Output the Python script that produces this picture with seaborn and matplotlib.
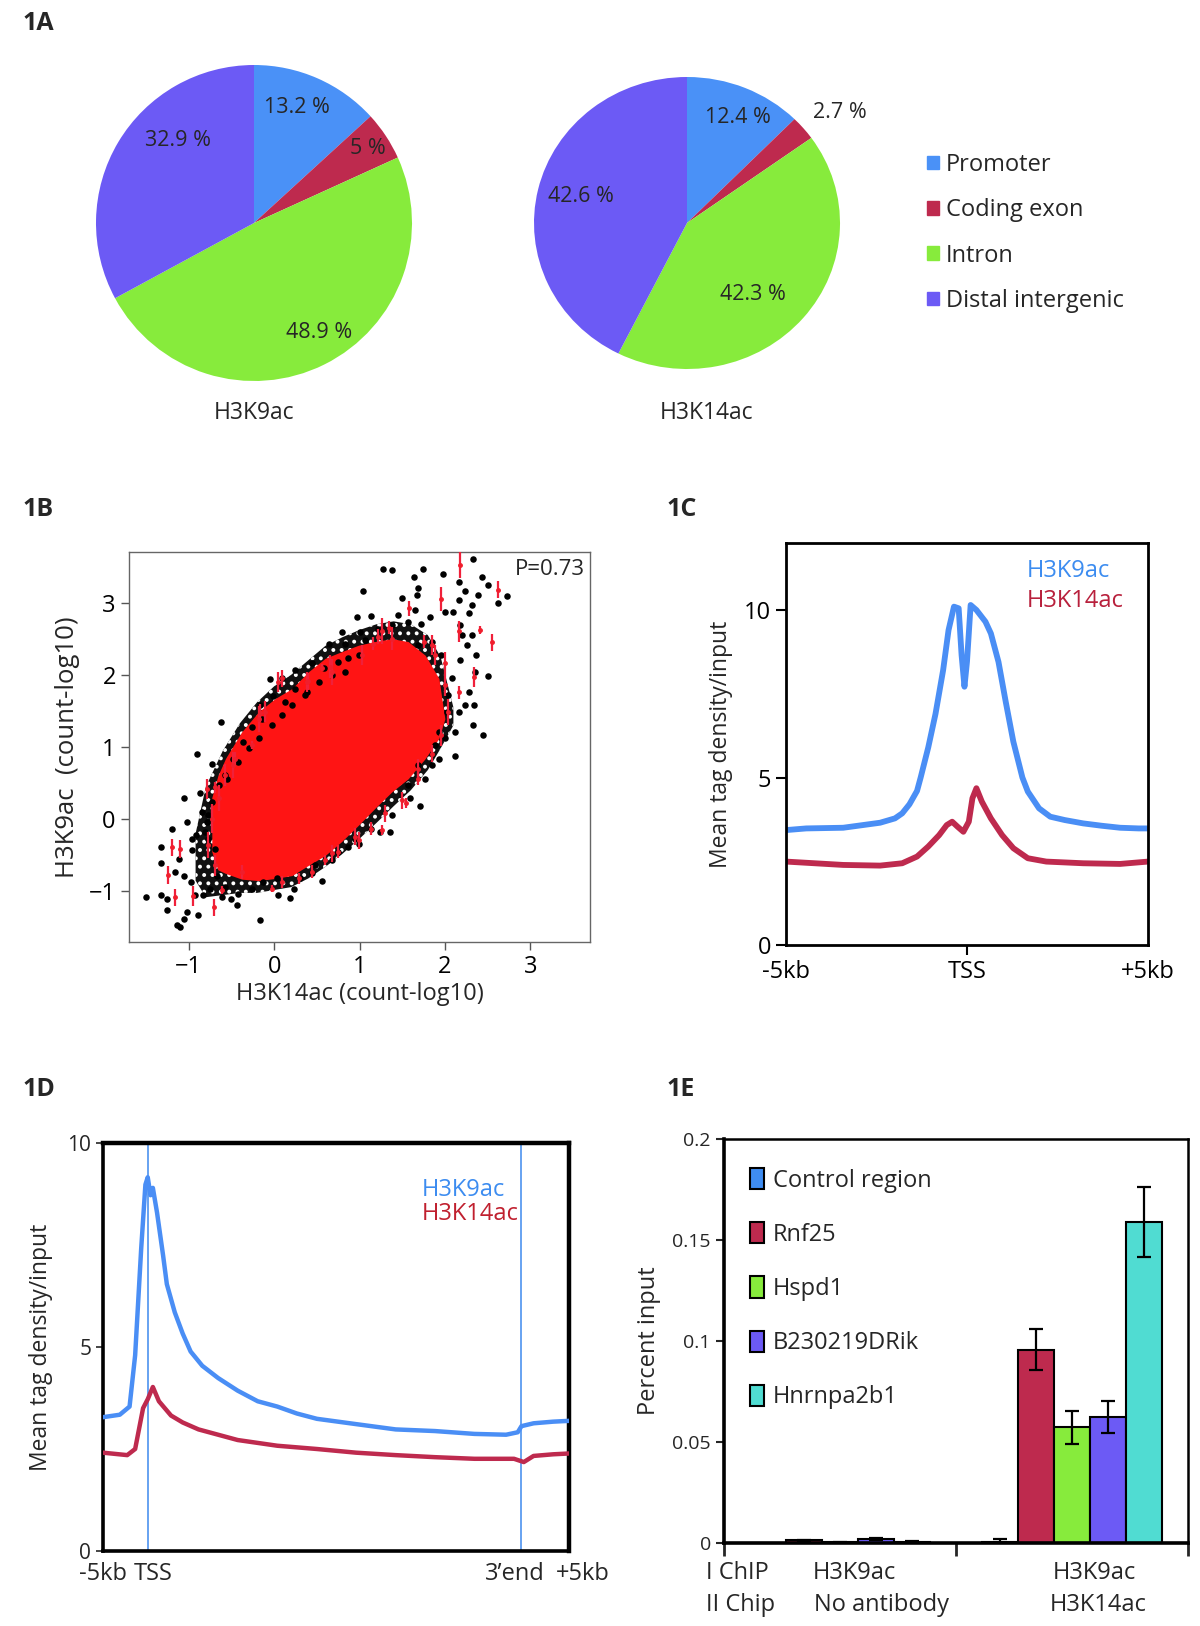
import numpy as np
import pandas as pd
import matplotlib.pyplot as plt
from matplotlib.patches import Patch
from matplotlib.transforms import ScaledTranslation
import seaborn as sns

sns.set_theme(style='ticks')
plt.rcParams['font.family'] = ['Open Sans', 'DejaVu Sans']
plt.rcParams['axes.facecolor'] = 'white'
plt.rcParams['hatch.linewidth'] = 1.6

# ---------------- data ----------------
# 1A pies
region_names = ['Promoter', 'Coding exon', 'Intron', 'Distal intergenic']
region_colors = ['#4A91F7', '#BE2A4E', '#87EB3C', '#6C5AF5']
h3k9_share = [13.2, 5, 48.9, 32.9]
h3k14_share = [12.4, 2.7, 42.3, 42.6]
h3k9_share_txt = ['13.2 %', '5 %', '48.9 %', '32.9 %']
h3k14_share_txt = ['12.4 %', '2.7 %', '42.3 %', '42.6 %']

# 1B scatter (count-log10), black points
black_x = [1.28, 1.38, 1.74, 2.33, 1.98, 1.64, 2.16, 2.44, 1.69, 1.67, 2.24, 2.39, 2.51, 2.73, 2.62,
           1.04, 1.50, 2.16, 2.32, 2.00, 1.83, 1.72, 1.65, 2.10, 2.18, 2.28, 0.97, 1.13, 1.45, 0.79,
           1.01, 0.64, 0.83, 1.07, 2.32, 2.20, 2.36, 2.51, 2.35, 2.18, 2.26, 0.44, 0.58, 0.75, 0.87,
           0.24, -0.05, 0.09, 0.25, 0.38, -0.01, 0.13, 2.28, 2.24, 2.34, 2.33, 2.45, 2.12, 2.00, 2.16,
           2.12, 1.93, 1.85, 1.77, 1.71, 1.59, 1.38, 1.24, 1.36, 0.99, 0.87, 0.68, 0.56, 0.44, 0.23,
           0.19, 0.05, -0.16, -0.42, -0.44, -0.50, -0.61, -0.75, -0.83, -0.89, -1.02, -1.06, -1.10, -1.14, -1.26,
           -1.26, -1.32, -1.50, -1.32, -1.32, -1.20, -1.12, -1.16, -1.05, -0.97, -0.93, -0.91, -0.96, -1.06, -0.87,
           -0.73, -0.62, -0.90, -0.55, -0.48, -0.36, -0.26, -0.14, -0.16, -0.85, -0.79, -1.02, -0.96, -0.77, -0.69,
           -0.67, -0.57, -0.26, -0.13, 0.03, 0.30, 0.48, 0.75, 0.95, 1.14, 1.57, 1.69, 1.89, 1.93, 2.02,
           2.04, 2.08, 1.95, 1.85, 1.69, 1.22, 1.38, 1.57, 0.99, 0.83, 0.68, 0.52, 0.36, 0.21, 0.09,
           -0.03, -0.18, -0.30, -0.42, -0.57, -0.65, -0.73, -0.77, -0.81]
black_y = [3.46, 3.45, 3.47, 3.60, 3.39, 3.36, 3.28, 3.36, 3.20, 3.10, 3.16, 3.10, 3.24, 3.09, 2.99,
           3.16, 3.06, 3.03, 2.97, 2.87, 2.80, 2.71, 2.90, 2.87, 2.69, 2.85, 2.80, 2.82, 2.83, 2.59,
           2.59, 2.42, 2.42, 2.48, 2.55, 2.55, 2.27, 1.99, 2.04, 2.20, 2.41, 2.16, 2.09, 2.18, 2.23,
           2.06, 1.94, 1.95, 1.81, 1.76, 1.70, 1.63, 1.76, 1.58, 1.58, 1.30, 1.16, 0.88, 1.12, 1.49,
           1.21, 0.84, 0.75, 0.56, 0.19, 0.29, 0.06, -0.18, -0.18, -0.34, -0.38, -0.57, -0.85, -0.75, -0.96,
           -1.09, -1.05, -1.39, -1.03, -1.19, -1.10, -1.08, -0.96, -1.05, -1.33, -1.28, -1.38, -1.49, -1.47, -1.26,
           -1.10, -1.05, -1.08, -0.61, -0.38, -0.13, -0.55, -0.73, -0.78, -0.87, -1.05, -0.22, -0.27, 0.29, 0.36,
           0.77, 1.35, 0.91, 0.56, 0.84, 1.07, 1.28, 1.39, 1.58, 0.10, -0.04, -0.04, -0.43, -0.27, -0.41,
           -0.78, -0.94, -0.96, -0.87, -0.82, -0.82, -0.64, -0.45, -0.27, -0.13, 0.47, 0.75, 1.03, 1.21, 1.49,
           1.72, 1.95, 2.27, 2.46, 2.41, 2.64, 2.69, 2.73, 2.27, 2.04, 2.00, 1.90, 1.72, 1.58, 1.44,
           1.30, 1.12, 0.98, 0.79, 0.61, 0.47, 0.24, 0.06, -0.18]

# dense black fringe and red core of the cloud (outline)
fringe_x = [-0.92, -0.80, -0.60, -0.40, -0.20, 0.00, 0.20, 0.40, 0.60, 0.80, 1.00, 1.20, 1.40, 1.60, 1.80, 1.95, 2.10]
fringe_hi = [-0.20, 0.45, 0.95, 1.33, 1.62, 1.84, 2.00, 2.20, 2.40, 2.52, 2.62, 2.70, 2.74, 2.70, 2.55, 2.25, 1.55]
fringe_lo = [-0.85, -1.08, -1.05, -1.02, -1.02, -0.98, -0.94, -0.82, -0.66, -0.48, -0.27, -0.05, 0.18, 0.40, 0.68, 0.98, 1.30]
core_x = [-0.73, -0.66, -0.57, -0.38, -0.18, 0.01, 0.21, 0.40, 0.60, 0.79, 0.99, 1.18, 1.38, 1.57, 1.77, 1.93, 2.00]
core_hi = [0.30, 0.60, 0.84, 1.21, 1.49, 1.67, 1.81, 2.04, 2.23, 2.32, 2.41, 2.46, 2.50, 2.46, 2.27, 1.95, 1.39]
core_lo = [-0.45, -0.70, -0.75, -0.83, -0.85, -0.82, -0.78, -0.64, -0.50, -0.31, -0.08, 0.15, 0.38, 0.56, 0.84, 1.12, 1.39]

# red points with error bars sticking out of the core
red_x = [2.18, 2.62, 2.41, 2.55, 2.34, 1.95, 1.58, 1.34, 1.22, 1.16, 0.68, 0.56, 0.40, 0.09, -0.16,
         -0.26, -0.46, -0.69, -0.79, -1.20, -1.10, -1.24, -1.16, -0.95, -0.71, -0.61, -0.03, 0.68, 0.99,
         1.26, 1.54, 1.69, 2.04, 2.16, 2.00, 1.85, 2.16,
         -0.48, -0.57, -0.18, -0.11, 0.05, 0.38, 0.66, 1.03, 1.26, 1.38, 1.75, 0.44, 0.60, 0.75,
         0.95, 1.14, 1.30, 1.50, 1.69, 1.85, 1.96, 2.00, 1.89, -0.38, -0.69, -0.77, -0.73, -0.65,
         0.29, 0.09]
red_y = [3.52, 3.18, 2.62, 2.45, 1.97, 3.05, 2.92, 2.65, 2.53, 2.43, 2.04, 2.10, 1.91, 1.95, 1.47,
         1.03, 0.84, 0.44, 0.42, -0.39, -0.41, -0.77, -1.08, -1.06, -1.22, -0.98, -0.96, -0.47, -0.29,
         -0.15, 0.22, 0.70, 1.48, 1.76, 2.17, 2.41, 2.60,
         0.75, 0.61, 1.39, 1.49, 1.90, 1.90, 2.11, 2.27, 2.60, 2.50, 2.46, -0.73, -0.57, -0.45,
         -0.24, -0.13, 0.08, 0.26, 0.56, 0.91, 1.16, 1.86, 2.27, -0.73, -0.64, -0.36, 0.01, 0.29,
         -0.82, -0.87]
red_err = [0.18, 0.12, 0.06, 0.12, 0.14, 0.16, 0.10, 0.09, 0.11, 0.09, 0.18, 0.05, 0.12, 0.12, 0.12,
           0.06, 0.09, 0.08, 0.14, 0.12, 0.12, 0.12, 0.12, 0.14, 0.12, 0.05, 0.05, 0.12, 0.12,
           0.07, 0.07, 0.14, 0.18, 0.09, 0.14, 0.14, 0.14,
           0.18, 0.15, 0.18, 0.15, 0.14, 0.14, 0.16, 0.14, 0.18, 0.16, 0.09, 0.09, 0.07, 0.09,
           0.12, 0.09, 0.12, 0.12, 0.09, 0.12, 0.14, 0.16, 0.14, 0.10, 0.14, 0.18, 0.20, 0.18,
           0.08, 0.08]

# 1C profile around TSS (kb)
c_kb_blue = [-5.0, -4.44, -3.42, -2.40, -1.99, -1.79, -1.59, -1.38, -1.28, -1.07, -0.87, -0.66, -0.51, -0.36,
             -0.23, -0.15, -0.07, 0.00, 0.10, 0.26, 0.51, 0.66, 0.87, 1.07, 1.28, 1.53, 1.68, 1.99, 2.30,
             2.70, 3.21, 3.72, 4.23, 4.74, 5.0]
c_blue = [3.43, 3.48, 3.50, 3.65, 3.78, 3.93, 4.20, 4.60, 5.00, 5.90, 6.90, 8.20, 9.40, 10.10,
          10.05, 8.66, 7.71, 8.46, 10.15, 10.00, 9.65, 9.30, 8.45, 7.26, 6.07, 5.00, 4.58, 4.08, 3.83,
          3.73, 3.63, 3.56, 3.50, 3.48, 3.48]
c_kb_red = [-5.0, -3.42, -2.40, -1.79, -1.38, -1.07, -0.77, -0.56, -0.41, -0.26, -0.10, 0.05, 0.15, 0.26,
            0.41, 0.66, 0.97, 1.28, 1.68, 2.19, 3.21, 4.23, 5.0]
c_red = [2.49, 2.39, 2.37, 2.44, 2.64, 2.94, 3.28, 3.58, 3.68, 3.53, 3.38, 3.68, 4.38, 4.68,
         4.28, 3.78, 3.28, 2.89, 2.59, 2.49, 2.44, 2.42, 2.49]

# 1D gene body profile (% of plotted window)
d_pct_blue = [0.0, 3.6, 5.7, 6.9, 8.2, 9.1, 9.6, 10.2, 10.7, 11.6, 12.9, 13.7, 15.4, 17.1, 18.8, 21.3,
              24.7, 28.9, 33.2, 37.4, 41.6, 45.9, 54.3, 62.8, 71.2, 79.7, 86.5, 89.0, 89.8, 92.4, 96.6, 100.0]
d_blue = [3.28, 3.34, 3.54, 4.80, 7.42, 8.98, 9.16, 8.72, 8.90, 8.29, 7.24, 6.54, 5.85, 5.33, 4.89, 4.54,
          4.24, 3.93, 3.67, 3.54, 3.37, 3.24, 3.11, 2.98, 2.94, 2.87, 2.85, 2.91, 3.06, 3.13, 3.17, 3.19]
d_pct_red = [0.0, 5.2, 6.9, 8.6, 9.6, 10.7, 12.0, 14.6, 17.1, 20.5, 24.7, 28.9, 37.4, 45.9, 54.3, 62.8,
             71.2, 79.7, 88.2, 90.3, 92.4, 96.6, 100.0]
d_red = [2.41, 2.35, 2.50, 3.50, 3.72, 4.02, 3.67, 3.32, 3.15, 2.98, 2.85, 2.72, 2.58, 2.50, 2.41, 2.35,
         2.30, 2.26, 2.26, 2.18, 2.33, 2.37, 2.39]
d_marks = [9.6, 89.7]

# 1E re-ChIP
targets = ['Control region', 'Rnf25', 'Hspd1', 'B230219DRik', 'Hnrnpa2b1']
target_colors = ['#3F8DF2', '#BE2A4E', '#87EB3C', '#6C5AF5', '#50DCD2']
chip_groups = ['H3K9ac / No antibody', 'H3K9ac / H3K14ac']
noab_vals = [0.0, 0.0013, 0.0004, 0.0020, 0.0007]
noab_err = [0.0, 0.0004, 0.0002, 0.0004, 0.0002]
dual_vals = [0.0005, 0.0957, 0.0572, 0.0623, 0.1588]
dual_err = [0.0014, 0.0102, 0.0083, 0.0080, 0.0172]

BLUE = '#4A8EF5'
RED = '#BE2A4E'
W, H = 1200, 1626


def box(l, t, r, b):
    return [l / W, 1 - b / H, (r - l) / W, (b - t) / H]


fig = plt.figure(figsize=(12, 16.26), dpi=100)

# ---------------- 1A ----------------
pie_specs = [
    (box(96, 65, 412, 381), h3k9_share, h3k9_share_txt,
     [(0.27, 0.73), (0.72, 0.47), (0.41, -0.69), (-0.48, 0.52)]),
    (box(534, 77, 840, 369), h3k14_share, h3k14_share_txt,
     [(0.33, 0.72), (1.0, 0.76), (0.43, -0.49), (-0.69, 0.18)]),
]
for rect, vals, txts, spots in pie_specs:
    ax = fig.add_axes(rect)
    wedges, _ = ax.pie(vals, colors=region_colors, startangle=90, counterclock=False,
                       radius=1, wedgeprops=dict(linewidth=0))
    ax.set_aspect('auto')
    ax.set_xlim(-1, 1)
    ax.set_ylim(-1, 1)
    for t, (px, py) in zip(txts, spots):
        ax.text(px, py, t, ha='center', va='center', fontsize=15.5, clip_on=False)

fig.text(254 / W, 1 - 413 / H, 'H3K9ac', ha='center', va='center', fontsize=16.5)
fig.text(707 / W, 1 - 413 / H, 'H3K14ac', ha='center', va='center', fontsize=16.5)
fig.legend(handles=[Patch(color=c) for c in region_colors], labels=region_names,
           loc='upper left', bbox_to_anchor=(927 / W, 1 - 153 / H), frameon=False,
           fontsize=17, handlelength=0.5, handleheight=0.5, handletextpad=0.3,
           labelspacing=0.9, borderpad=0, borderaxespad=0)

# ---------------- 1B ----------------
ax = fig.add_axes(box(129, 552, 590, 942))
ax.fill_between(fringe_x, fringe_lo, fringe_hi, facecolor='#111111', edgecolor='white',
                hatch='..', lw=0, zorder=1)
ax.fill_between(core_x, core_lo, core_hi, color='#FF1414', lw=0, zorder=2)
sns.scatterplot(x=black_x, y=black_y, color='black', s=22, linewidth=0, ax=ax, zorder=3)
ax.errorbar(red_x, red_y, yerr=red_err, fmt='o', ms=2.5, color='#F01E2C', ecolor='#F0203A',
            elinewidth=1.6, zorder=4)
ax.set_xlim(-1.7, 3.7)
ax.set_ylim(-1.7, 3.7)
ax.set_xticks([-1, 0, 1, 2, 3])
ax.set_yticks([-1, 0, 1, 2, 3])
ax.tick_params(direction='out', length=6, width=1, colors='#555555', labelcolor='black',
               labelsize=17)
for s in ax.spines.values():
    s.set_color('#666666')
    s.set_linewidth(1)
ax.set_xlabel('H3K14ac (count-log10)', fontsize=17, labelpad=2)
ax.set_ylabel('H3K9ac  (count-log10)', fontsize=18.5, labelpad=6)
ax.text(0.913, 0.955, 'P=0.73', transform=ax.transAxes, ha='center', va='center', fontsize=16)

# ---------------- 1C ----------------
ax = fig.add_axes(box(786, 543, 1148, 945))
sns.lineplot(x=c_kb_blue, y=c_blue, color=BLUE, lw=4.2, ax=ax)
sns.lineplot(x=c_kb_red, y=c_red, color=RED, lw=4.2, ax=ax)
ax.set_xlim(-5, 5)
ax.set_ylim(0, 12)
ax.set_yticks([0, 5, 10])
ax.set_xticks([-5, 0, 5])
ax.set_xticklabels(['-5kb', 'TSS', '+5kb'])
ax.tick_params(direction='out', length=7, width=1.5, colors='black', labelsize=17)
xt = ax.xaxis.get_major_ticks()
xt[0].tick1line.set_visible(False)
xt[2].tick1line.set_visible(False)
for s in ax.spines.values():
    s.set_color('black')
    s.set_linewidth(2)
ax.set_ylabel('Mean tag density/input', fontsize=16.5, labelpad=8)
ax.text(0.665, 0.93, 'H3K9ac', color='#3C8CF0', transform=ax.transAxes, fontsize=17, va='center')
ax.text(0.665, 0.855, 'H3K14ac', color='#B8203C', transform=ax.transAxes, fontsize=17, va='center')

# ---------------- 1D ----------------
ax = fig.add_axes(box(103, 1143, 569, 1551))
for m in d_marks:
    ax.axvline(m, color='#5B9BF0', lw=1.3, zorder=1)
sns.lineplot(x=d_pct_blue, y=d_blue, color=BLUE, lw=3.2, ax=ax, zorder=3)
sns.lineplot(x=d_pct_red, y=d_red, color=RED, lw=3.2, ax=ax, zorder=3)
ax.set_xlim(0, 100)
ax.set_ylim(0, 10)
ax.set_yticks([0, 5, 10])
ax.set_xticks([0, d_marks[0], d_marks[1], 100])
ax.set_xticklabels(['-5kb', 'TSS', '3\u2019end', '+5kb'])
ax.tick_params(axis='y', direction='out', length=5, width=1.2, labelsize=15)
ax.tick_params(axis='x', length=0, labelsize=17, pad=8)
xlabs = ax.get_xticklabels()
xlabs[1].set_transform(xlabs[1].get_transform() + ScaledTranslation(5 / 100, 0, fig.dpi_scale_trans))
xlabs[2].set_transform(xlabs[2].get_transform() + ScaledTranslation(-6 / 100, 0, fig.dpi_scale_trans))
xlabs[3].set_transform(xlabs[3].get_transform() + ScaledTranslation(14 / 100, 0, fig.dpi_scale_trans))
for name, s in ax.spines.items():
    s.set_color('black')
    s.set_linewidth(3.2 if name in ('top', 'right') else 2.6)
ax.set_ylabel('Mean tag density/input', fontsize=16.5, labelpad=10)
ax.text(0.685, 0.885, 'H3K9ac', color='#3C8CF0', transform=ax.transAxes, fontsize=17, va='center')
ax.text(0.685, 0.825, 'H3K14ac', color='#C0202F', transform=ax.transAxes, fontsize=17, va='center')

# ---------------- 1E ----------------
df = pd.DataFrame({
    'group': [chip_groups[0]] * 5 + [chip_groups[1]] * 5,
    'target': targets * 2,
    'value': noab_vals + dual_vals,
})
errs = {chip_groups[0]: noab_err, chip_groups[1]: dual_err}
ax = fig.add_axes(box(724, 1139, 1188, 1543))
sns.barplot(data=df, x='group', y='value', hue='target', hue_order=targets, order=chip_groups,
            palette=target_colors, saturation=1, edgecolor='black', linewidth=1.5, errorbar=None,
            width=0.78, legend=False, ax=ax)
bar_sets = list(ax.containers)
for i, cont in enumerate(bar_sets):
    for j, bar in enumerate(cont):
        xc = bar.get_x() + bar.get_width() / 2
        e = errs[chip_groups[j]][i]
        if e > 0:
            ax.errorbar(xc, bar.get_height(), yerr=e, color='black', capsize=5, lw=1.6,
                        capthick=1.6, zorder=5)
ax.set_xlim(-0.5, 1.5)
ax.set_ylim(0, 0.2)
ax.set_yticks([0, 0.05, 0.1, 0.15, 0.2])
ax.set_yticklabels(['0', '0.05', '0.1', '0.15', '0.2'])
ax.set_xticks([-0.5, 0.5, 1.5])
ax.set_xticklabels(['', '', ''])
ax.tick_params(axis='x', direction='out', length=9, width=2)
ax.tick_params(axis='y', direction='out', length=6, width=1.5, labelsize=14)
ax.set_xlabel('')
ax.set_ylabel('Percent input', fontsize=17, labelpad=8)
for name, s in ax.spines.items():
    s.set_color('black')
    s.set_linewidth(2.6 if name in ('left', 'bottom') else 1.8)
ax.legend(handles=[Patch(facecolor=c, edgecolor='black', linewidth=1.5) for c in target_colors],
          labels=targets, loc='upper left', bbox_to_anchor=(0.055, 0.928), frameon=False,
          fontsize=17, handlelength=0.6, handleheight=1.0, handletextpad=0.4,
          labelspacing=1.25, borderpad=0, borderaxespad=0)

for txt, x, y in [('I ChIP', 706, 1573), ('II Chip', 706, 1605), ('H3K9ac', 813, 1573),
                  ('No antibody', 814, 1605), ('H3K9ac', 1053, 1573), ('H3K14ac', 1050, 1605)]:
    fig.text(x / W, 1 - y / H, txt, ha='left', va='center', fontsize=17)

# panel letters
for lab, x, y in [('1A', 23, 23), ('1B', 23, 510), ('1C', 667, 510), ('1D', 23, 1089), ('1E', 667, 1089)]:
    fig.text(x / W, 1 - y / H, lab, ha='left', va='center', fontsize=18, fontweight='bold')

fig.savefig('out.png', dpi=100)
